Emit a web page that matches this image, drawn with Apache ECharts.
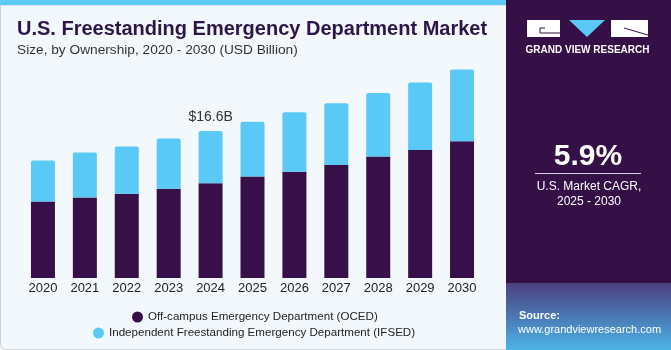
<!DOCTYPE html>
<html>
<head>
<meta charset="utf-8">
<script src="https://cdn.jsdelivr.net/npm/echarts@6/dist/echarts.min.js"></script>
<style>
  html, body { margin: 0; padding: 0; background: #f3f8fc; }
  #chart { width: 671px; height: 350px; }
</style>
</head>
<body>
<div id="chart"></div>
<script>
var years = ['2020', '2021', '2022', '2023', '2024', '2025', '2026', '2027', '2028', '2029', '2030'];
var oced = [8.62, 9.07, 9.52, 10.08, 10.69, 11.44, 12.00, 12.76, 13.70, 14.45, 15.44];
var ifsed = [4.63, 5.08, 5.31, 5.65, 5.91, 6.18, 6.71, 6.97, 7.19, 7.60, 8.08];
var calloutYear = '2024';
var calloutText = '$16.6B';

var dark = '#370f49';
var blue = '#5bc9f6';
var ff = 'Liberation Sans, Arial, sans-serif';

var chart = echarts.init(document.getElementById('chart'));

var option = {
    backgroundColor: '#f3f8fc',
    animation: false,
    textStyle: { fontFamily: ff },
    grid: { left: 22, right: 188, top: 60, bottom: 72, containLabel: false },
    xAxis: {
        type: 'category',
        data: years,
        axisLine: { show: false },
        axisTick: { show: false },
        axisLabel: { color: '#222', fontSize: 13, margin: 4 }
    },
    yAxis: {
        type: 'value',
        min: 0,
        max: 24.6,
        show: false
    },
    legend: [
        {
            data: ['Off-campus Emergency Department (OCED)'],
            left: 127, top: 306,
            icon: 'circle', itemWidth: 11, itemHeight: 11, itemGap: 6,
            textStyle: { color: '#222', fontSize: 11.6 }
        },
        {
            data: ['Independent Freestanding Emergency Department (IFSED)'],
            left: 88, top: 322,
            icon: 'circle', itemWidth: 11, itemHeight: 11, itemGap: 6,
            textStyle: { color: '#222', fontSize: 11.6 }
        }
    ],
    series: [
        {
            name: 'Off-campus Emergency Department (OCED)',
            type: 'bar',
            stack: 'total',
            barWidth: 24,
            itemStyle: { color: dark },
            data: oced
        },
        {
            name: 'Independent Freestanding Emergency Department (IFSED)',
            type: 'bar',
            stack: 'total',
            barWidth: 24,
            itemStyle: { color: blue, borderRadius: [2, 2, 0, 0] },
            label: {
                show: true,
                position: 'top',
                distance: 7,
                color: '#333',
                fontSize: 14,
                formatter: function (p) { return p.name === calloutYear ? calloutText : ''; }
            },
            data: ifsed
        }
    ],
    graphic: [
        // top strip
        { type: 'rect', shape: { x: 0, y: 0, width: 506, height: 5 }, style: { fill: blue }, silent: true },
        // panel border
        { type: 'rect', shape: { x: 0.5, y: 5, width: 510, height: 344.5, r: [0, 0, 0, 5] },
          style: { fill: 'none', stroke: '#cfd4d8', lineWidth: 1 }, silent: true, z: -1 },
        // right panel
        { type: 'rect', shape: { x: 506, y: 0, width: 165, height: 350 }, style: { fill: '#341047' }, silent: true },
        { type: 'rect', shape: { x: 506, y: 283, width: 165, height: 67 },
          style: { fill: new echarts.graphic.LinearGradient(0, 0, 0, 1, [
              { offset: 0, color: '#4d3f7e' },
              { offset: 0.5, color: '#4a78b4' },
              { offset: 1, color: '#4cb4e6' }
          ]) }, silent: true },
        // logo
        { type: 'rect', shape: { x: 527, y: 20, width: 33, height: 17 }, style: { fill: '#fff' }, silent: true },
        { type: 'polyline', shape: { points: [[545, 28], [540, 28], [540, 33], [560, 33]] }, style: { stroke: '#341047', lineWidth: 1, fill: 'none' }, silent: true },
        { type: 'polygon', shape: { points: [[569, 20], [605, 20], [587, 37]] }, style: { fill: blue }, silent: true },
        { type: 'rect', shape: { x: 611, y: 20, width: 37, height: 17 }, style: { fill: '#fff' }, silent: true },
        { type: 'line', shape: { x1: 624, y1: 28, x2: 648, y2: 35 }, style: { stroke: '#341047', lineWidth: 1 }, silent: true },
        { type: 'text', x: 587.5, y: 50, style: { text: 'GRAND VIEW RESEARCH', fill: '#fff', font: 'bold 10px ' + ff, align: 'center', verticalAlign: 'middle' }, silent: true },
        // CAGR
        { type: 'text', x: 588, y: 157, style: { text: '5.9%', fill: '#fff', font: 'bold 30px ' + ff, align: 'center', verticalAlign: 'middle' }, silent: true },
        { type: 'line', shape: { x1: 535, y1: 173.5, x2: 641, y2: 173.5 }, style: { stroke: '#d8d0e0', lineWidth: 1 }, silent: true },
        { type: 'text', x: 589, y: 187, style: { text: 'U.S. Market CAGR,', fill: '#fff', font: '12px ' + ff, align: 'center', verticalAlign: 'middle' }, silent: true },
        { type: 'text', x: 589, y: 202, style: { text: '2025 - 2030', fill: '#fff', font: '12px ' + ff, align: 'center', verticalAlign: 'middle' }, silent: true },
        // source
        { type: 'text', x: 519, y: 316, style: { text: 'Source:', fill: '#fff', font: 'bold 11px ' + ff, verticalAlign: 'middle' }, silent: true },
        { type: 'text', x: 518, y: 330, style: { text: 'www.grandviewresearch.com', fill: '#fff', font: '11px ' + ff, verticalAlign: 'middle' }, silent: true },
        // titles
        { type: 'text', x: 17, y: 29, style: { text: 'U.S. Freestanding Emergency Department Market', fill: '#2e1548', font: 'bold 20px ' + ff, verticalAlign: 'middle' }, silent: true },
        { type: 'text', x: 17, y: 50, style: { text: 'Size, by Ownership, 2020 - 2030 (USD Billion)', fill: '#333', font: '13.7px ' + ff, verticalAlign: 'middle' }, silent: true }
    ]
};

chart.setOption(option);
</script>
</body>
</html>
